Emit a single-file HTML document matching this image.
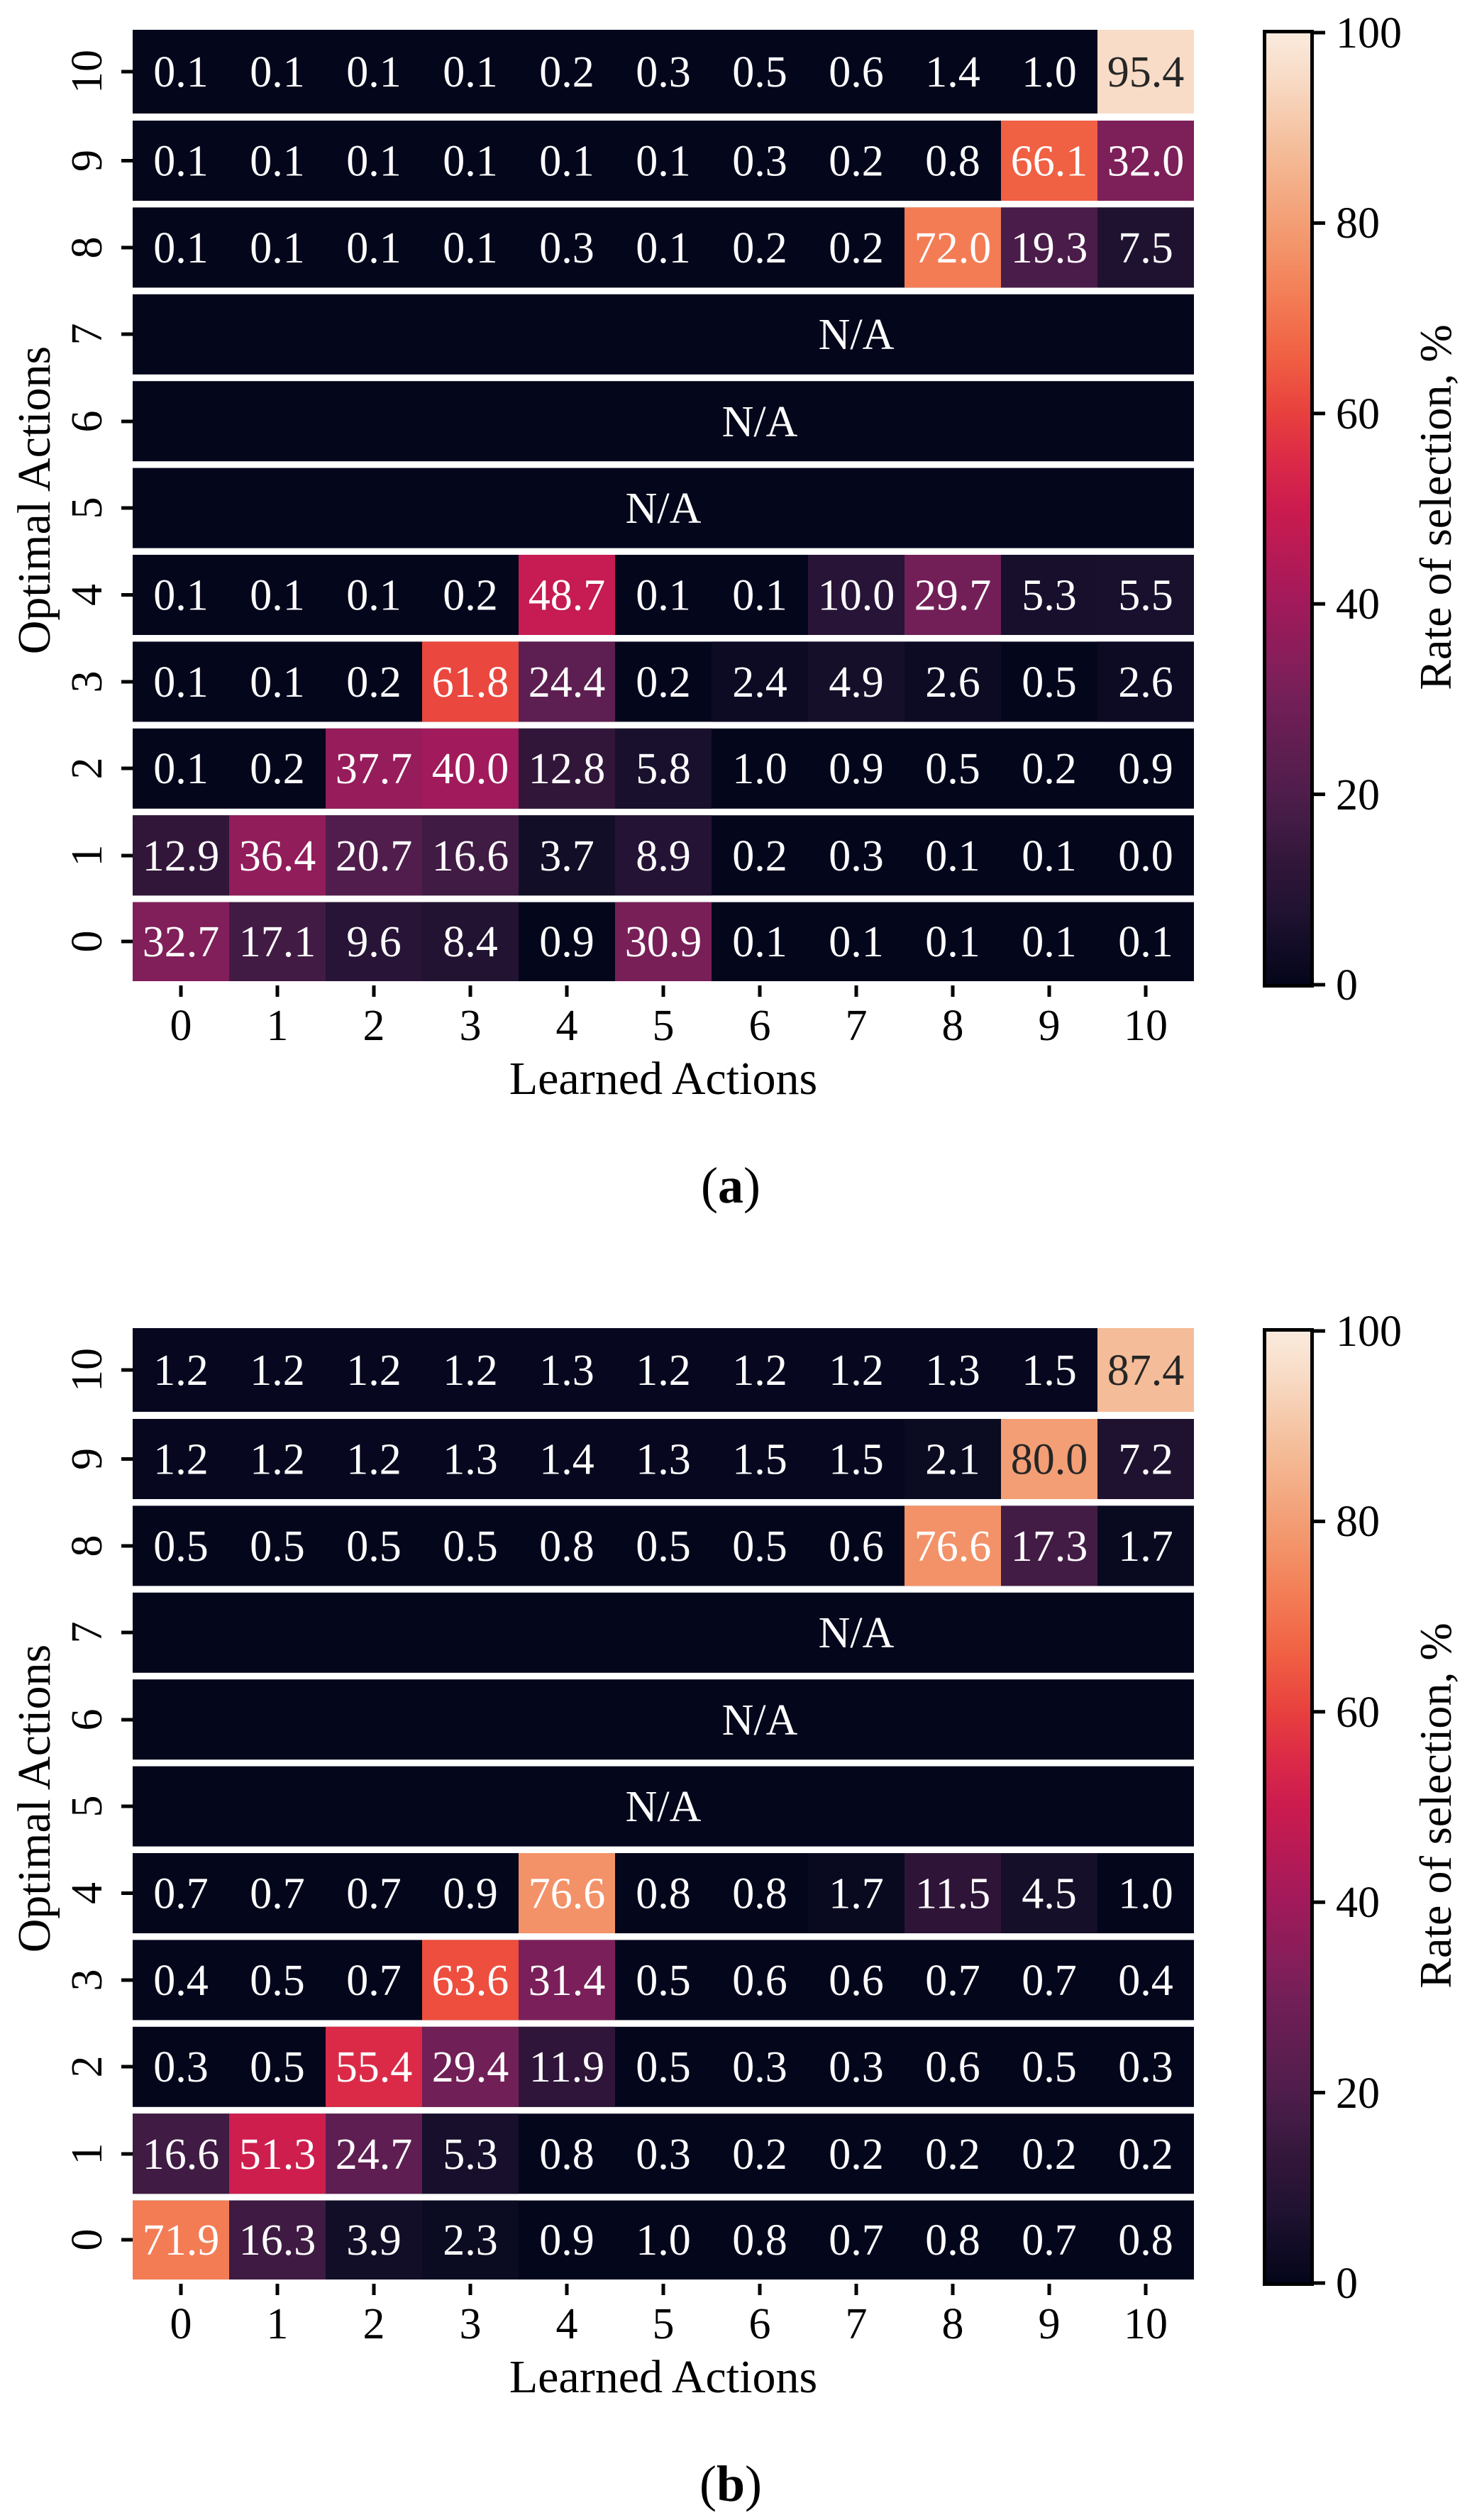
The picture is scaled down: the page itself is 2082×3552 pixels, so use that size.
<!DOCTYPE html>
<html><head><meta charset="utf-8"><style>
html,body{margin:0;padding:0;background:#fff;}
svg{display:block;}
text{font-family:"Liberation Serif",serif;}
</style></head><body>
<svg width="2082" height="3552" viewBox="0 0 2082 3552" xmlns="http://www.w3.org/2000/svg">
<defs>
<linearGradient id="rk" x1="0" y1="1" x2="0" y2="0">
<stop offset="0" stop-color="#03051a"/><stop offset="0.075" stop-color="#1f1230"/><stop offset="0.13" stop-color="#32163a"/><stop offset="0.173" stop-color="#431c45"/><stop offset="0.2" stop-color="#4e1d4b"/><stop offset="0.3" stop-color="#731f57"/><stop offset="0.32" stop-color="#7d1f59"/><stop offset="0.4" stop-color="#a11a5b"/><stop offset="0.5" stop-color="#cb1b4f"/><stop offset="0.55" stop-color="#db2a47"/><stop offset="0.6" stop-color="#e8403e"/><stop offset="0.66" stop-color="#f06043"/><stop offset="0.72" stop-color="#f37c55"/><stop offset="0.77" stop-color="#f39268"/><stop offset="0.8" stop-color="#f39e75"/><stop offset="0.874" stop-color="#f4bc98"/><stop offset="0.954" stop-color="#f8dcc7"/><stop offset="1" stop-color="#faebdd"/>
</linearGradient>
</defs>

<!-- ============ PANEL A ============ -->
<g id="pa">
<g fill="#04061c">
<rect x="187" y="42" width="1496" height="118"/>
<rect x="187" y="170" width="1496" height="113"/>
<rect x="187" y="292.4" width="1496" height="113"/>
<rect x="187" y="414.8" width="1496" height="113"/>
<rect x="187" y="537.2" width="1496" height="113"/>
<rect x="187" y="659.6" width="1496" height="113"/>
<rect x="187" y="782" width="1496" height="113"/>
<rect x="187" y="904.4" width="1496" height="113"/>
<rect x="187" y="1026.8" width="1496" height="113"/>
<rect x="187" y="1149.2" width="1496" height="113"/>
<rect x="187" y="1271.6" width="1496" height="111.4"/>
</g>
<rect x="1547" y="42" width="136" height="118" fill="#f8dcc7"/>
<rect x="1411" y="170" width="136" height="113" fill="#f06043"/>
<rect x="1547" y="170" width="136" height="113" fill="#7d1f59"/>
<rect x="1275" y="292.4" width="136" height="113" fill="#f37c55"/>
<rect x="1411" y="292.4" width="136" height="113" fill="#4a1c49"/>
<rect x="1547" y="292.4" width="136" height="113" fill="#1f1230"/>
<rect x="731" y="782" width="136" height="113" fill="#c61b53"/>
<rect x="1139" y="782" width="136" height="113" fill="#281437"/>
<rect x="1275" y="782" width="136" height="113" fill="#721f57"/>
<rect x="1411" y="782" width="136" height="113" fill="#170f2b"/>
<rect x="1547" y="782" width="136" height="113" fill="#18102c"/>
<rect x="595" y="904.4" width="136" height="113" fill="#ea473e"/>
<rect x="731" y="904.4" width="136" height="113" fill="#5d1e51"/>
<rect x="1003" y="904.4" width="136" height="113" fill="#0c0b23"/>
<rect x="1139" y="904.4" width="136" height="113" fill="#160f2a"/>
<rect x="1275" y="904.4" width="136" height="113" fill="#0c0b23"/>
<rect x="1547" y="904.4" width="136" height="113" fill="#0c0b23"/>
<rect x="459" y="1026.8" width="136" height="113" fill="#971c5b"/>
<rect x="595" y="1026.8" width="136" height="113" fill="#a11a5b"/>
<rect x="731" y="1026.8" width="136" height="113" fill="#32163a"/>
<rect x="867" y="1026.8" width="136" height="113" fill="#19102d"/>
<rect x="187" y="1149.2" width="136" height="113" fill="#32163a"/>
<rect x="323" y="1149.2" width="136" height="113" fill="#911d5b"/>
<rect x="459" y="1149.2" width="136" height="113" fill="#501d4c"/>
<rect x="595" y="1149.2" width="136" height="113" fill="#401b43"/>
<rect x="731" y="1149.2" width="136" height="113" fill="#120e27"/>
<rect x="867" y="1149.2" width="136" height="113" fill="#241334"/>
<rect x="187" y="1271.6" width="136" height="111.4" fill="#801f5a"/>
<rect x="323" y="1271.6" width="136" height="111.4" fill="#421b44"/>
<rect x="459" y="1271.6" width="136" height="111.4" fill="#271436"/>
<rect x="595" y="1271.6" width="136" height="111.4" fill="#221332"/>
<rect x="867" y="1271.6" width="136" height="111.4" fill="#781f58"/>

<g font-size="62" fill="#ffffff" text-anchor="middle">
<text y="122"><tspan x="255">0.1</tspan><tspan x="391">0.1</tspan><tspan x="527">0.1</tspan><tspan x="663">0.1</tspan><tspan x="799">0.2</tspan><tspan x="935">0.3</tspan><tspan x="1071">0.5</tspan><tspan x="1207">0.6</tspan><tspan x="1343">1.4</tspan><tspan x="1479">1.0</tspan></text>
<text y="247.5"><tspan x="255">0.1</tspan><tspan x="391">0.1</tspan><tspan x="527">0.1</tspan><tspan x="663">0.1</tspan><tspan x="799">0.1</tspan><tspan x="935">0.1</tspan><tspan x="1071">0.3</tspan><tspan x="1207">0.2</tspan><tspan x="1343">0.8</tspan><tspan x="1479">66.1</tspan><tspan x="1615">32.0</tspan></text>
<text y="370"><tspan x="255">0.1</tspan><tspan x="391">0.1</tspan><tspan x="527">0.1</tspan><tspan x="663">0.1</tspan><tspan x="799">0.3</tspan><tspan x="935">0.1</tspan><tspan x="1071">0.2</tspan><tspan x="1207">0.2</tspan><tspan x="1343">72.0</tspan><tspan x="1479">19.3</tspan><tspan x="1615">7.5</tspan></text>
<text x="1207" y="492">N/A</text>
<text x="1071" y="615">N/A</text>
<text x="935" y="737">N/A</text>
<text y="859.5"><tspan x="255">0.1</tspan><tspan x="391">0.1</tspan><tspan x="527">0.1</tspan><tspan x="663">0.2</tspan><tspan x="799">48.7</tspan><tspan x="935">0.1</tspan><tspan x="1071">0.1</tspan><tspan x="1207">10.0</tspan><tspan x="1343">29.7</tspan><tspan x="1479">5.3</tspan><tspan x="1615">5.5</tspan></text>
<text y="982"><tspan x="255">0.1</tspan><tspan x="391">0.1</tspan><tspan x="527">0.2</tspan><tspan x="663">61.8</tspan><tspan x="799">24.4</tspan><tspan x="935">0.2</tspan><tspan x="1071">2.4</tspan><tspan x="1207">4.9</tspan><tspan x="1343">2.6</tspan><tspan x="1479">0.5</tspan><tspan x="1615">2.6</tspan></text>
<text y="1104"><tspan x="255">0.1</tspan><tspan x="391">0.2</tspan><tspan x="527">37.7</tspan><tspan x="663">40.0</tspan><tspan x="799">12.8</tspan><tspan x="935">5.8</tspan><tspan x="1071">1.0</tspan><tspan x="1207">0.9</tspan><tspan x="1343">0.5</tspan><tspan x="1479">0.2</tspan><tspan x="1615">0.9</tspan></text>
<text y="1227"><tspan x="255">12.9</tspan><tspan x="391">36.4</tspan><tspan x="527">20.7</tspan><tspan x="663">16.6</tspan><tspan x="799">3.7</tspan><tspan x="935">8.9</tspan><tspan x="1071">0.2</tspan><tspan x="1207">0.3</tspan><tspan x="1343">0.1</tspan><tspan x="1479">0.1</tspan><tspan x="1615">0.0</tspan></text>
<text y="1348"><tspan x="255">32.7</tspan><tspan x="391">17.1</tspan><tspan x="527">9.6</tspan><tspan x="663">8.4</tspan><tspan x="799">0.9</tspan><tspan x="935">30.9</tspan><tspan x="1071">0.1</tspan><tspan x="1207">0.1</tspan><tspan x="1343">0.1</tspan><tspan x="1479">0.1</tspan><tspan x="1615">0.1</tspan></text>
</g>
<text x="1615" y="122" font-size="62" fill="#262626" text-anchor="middle">95.4</text>

<g stroke="#000" stroke-width="5">
<line x1="171" x2="187" y1="101" y2="101"/><line x1="171" x2="187" y1="226.5" y2="226.5"/><line x1="171" x2="187" y1="349" y2="349"/><line x1="171" x2="187" y1="471" y2="471"/><line x1="171" x2="187" y1="594" y2="594"/><line x1="171" x2="187" y1="716" y2="716"/><line x1="171" x2="187" y1="838.5" y2="838.5"/><line x1="171" x2="187" y1="961" y2="961"/><line x1="171" x2="187" y1="1083" y2="1083"/><line x1="171" x2="187" y1="1206" y2="1206"/><line x1="171" x2="187" y1="1327" y2="1327"/>
</g>
<g font-size="62" fill="#000" text-anchor="middle">
<text transform="translate(143,101) rotate(-90)">10</text>
<text transform="translate(143,226.5) rotate(-90)">9</text>
<text transform="translate(143,349) rotate(-90)">8</text>
<text transform="translate(143,471) rotate(-90)">7</text>
<text transform="translate(143,594) rotate(-90)">6</text>
<text transform="translate(143,716) rotate(-90)">5</text>
<text transform="translate(143,838.5) rotate(-90)">4</text>
<text transform="translate(143,961) rotate(-90)">3</text>
<text transform="translate(143,1083) rotate(-90)">2</text>
<text transform="translate(143,1206) rotate(-90)">1</text>
<text transform="translate(143,1327) rotate(-90)">0</text>
</g>
<g stroke="#000" stroke-width="5">
<line y1="1389" y2="1405" x1="255" x2="255"/><line y1="1389" y2="1405" x1="391" x2="391"/><line y1="1389" y2="1405" x1="527" x2="527"/><line y1="1389" y2="1405" x1="663" x2="663"/><line y1="1389" y2="1405" x1="799" x2="799"/><line y1="1389" y2="1405" x1="935" x2="935"/><line y1="1389" y2="1405" x1="1071" x2="1071"/><line y1="1389" y2="1405" x1="1207" x2="1207"/><line y1="1389" y2="1405" x1="1343" x2="1343"/><line y1="1389" y2="1405" x1="1479" x2="1479"/><line y1="1389" y2="1405" x1="1615" x2="1615"/>
</g>
<text y="1466" font-size="62" fill="#000" text-anchor="middle"><tspan x="255">0</tspan><tspan x="391">1</tspan><tspan x="527">2</tspan><tspan x="663">3</tspan><tspan x="799">4</tspan><tspan x="935">5</tspan><tspan x="1071">6</tspan><tspan x="1207">7</tspan><tspan x="1343">8</tspan><tspan x="1479">9</tspan><tspan x="1615">10</tspan></text>
<text x="935" y="1542" font-size="66" fill="#000" text-anchor="middle">Learned Actions</text>
<text transform="translate(70,705) rotate(-90)" font-size="66" fill="#000" text-anchor="middle">Optimal Actions</text>

<rect x="1782.5" y="44.5" width="67" height="1345" fill="url(#rk)" stroke="#000" stroke-width="5"/>
<g stroke="#000" stroke-width="5">
<line x1="1852" x2="1868" y1="1388" y2="1388"/><line x1="1852" x2="1868" y1="1119.6" y2="1119.6"/><line x1="1852" x2="1868" y1="851.2" y2="851.2"/><line x1="1852" x2="1868" y1="582.8" y2="582.8"/><line x1="1852" x2="1868" y1="314.4" y2="314.4"/><line x1="1852" x2="1868" y1="46" y2="46"/>
</g>
<g font-size="62" fill="#000">
<text x="1883" y="1409">0</text><text x="1883" y="1141">20</text><text x="1883" y="872">40</text><text x="1883" y="604">60</text><text x="1883" y="335">80</text><text x="1883" y="67">100</text>
</g>
<text transform="translate(2045,715) rotate(-90)" font-size="64" fill="#000" text-anchor="middle">Rate of selection, %</text>
<text x="1030" y="1695" font-size="72" fill="#000" text-anchor="middle">(<tspan font-weight="bold">a</tspan>)</text>
</g>

<!-- ============ PANEL B ============ -->
<g transform="translate(0,1830)">
<g fill="#04061c">
<rect x="187" y="42" width="1496" height="118" fill="#07081f"/>
<rect x="187" y="170" width="1496" height="113" fill="#07081f"/>
<rect x="187" y="292.4" width="1496" height="113"/>
<rect x="187" y="414.8" width="1496" height="113"/>
<rect x="187" y="537.2" width="1496" height="113"/>
<rect x="187" y="659.6" width="1496" height="113"/>
<rect x="187" y="782" width="1496" height="113"/>
<rect x="187" y="904.4" width="1496" height="113"/>
<rect x="187" y="1026.8" width="1496" height="113"/>
<rect x="187" y="1149.2" width="1496" height="113"/>
<rect x="187" y="1271.6" width="1496" height="111.4"/>
</g>
<rect x="1547" y="42" width="136" height="118" fill="#f4bc98"/>
<rect x="1275" y="170" width="136" height="113" fill="#0b0b22"/>
<rect x="1411" y="170" width="136" height="113" fill="#f39e75"/>
<rect x="1547" y="170" width="136" height="113" fill="#1f1230"/>
<rect x="1275" y="292.4" width="136" height="113" fill="#f39268"/>
<rect x="1411" y="292.4" width="136" height="113" fill="#431c45"/>
<rect x="1547" y="292.4" width="136" height="113" fill="#090a20"/>
<rect x="731" y="782" width="136" height="113" fill="#f39268"/>
<rect x="1139" y="782" width="136" height="113" fill="#090a20"/>
<rect x="1275" y="782" width="136" height="113" fill="#2e1538"/>
<rect x="1411" y="782" width="136" height="113" fill="#150f29"/>
<rect x="595" y="904.4" width="136" height="113" fill="#ed4e3e"/>
<rect x="731" y="904.4" width="136" height="113" fill="#7a1f59"/>
<rect x="459" y="1026.8" width="136" height="113" fill="#db2a47"/>
<rect x="595" y="1026.8" width="136" height="113" fill="#711f57"/>
<rect x="731" y="1026.8" width="136" height="113" fill="#2f1539"/>
<rect x="187" y="1149.2" width="136" height="113" fill="#401b43"/>
<rect x="323" y="1149.2" width="136" height="113" fill="#ce1e4e"/>
<rect x="459" y="1149.2" width="136" height="113" fill="#5e1e52"/>
<rect x="595" y="1149.2" width="136" height="113" fill="#170f2b"/>
<rect x="187" y="1271.6" width="136" height="111.4" fill="#f37c55"/>
<rect x="323" y="1271.6" width="136" height="111.4" fill="#3f1a42"/>
<rect x="459" y="1271.6" width="136" height="111.4" fill="#130e28"/>
<rect x="595" y="1271.6" width="136" height="111.4" fill="#0b0b22"/>

<g font-size="62" fill="#ffffff" text-anchor="middle">
<text y="122"><tspan x="255">1.2</tspan><tspan x="391">1.2</tspan><tspan x="527">1.2</tspan><tspan x="663">1.2</tspan><tspan x="799">1.3</tspan><tspan x="935">1.2</tspan><tspan x="1071">1.2</tspan><tspan x="1207">1.2</tspan><tspan x="1343">1.3</tspan><tspan x="1479">1.5</tspan></text>
<text y="247.5"><tspan x="255">1.2</tspan><tspan x="391">1.2</tspan><tspan x="527">1.2</tspan><tspan x="663">1.3</tspan><tspan x="799">1.4</tspan><tspan x="935">1.3</tspan><tspan x="1071">1.5</tspan><tspan x="1207">1.5</tspan><tspan x="1343">2.1</tspan><tspan x="1615">7.2</tspan></text>
<text y="370"><tspan x="255">0.5</tspan><tspan x="391">0.5</tspan><tspan x="527">0.5</tspan><tspan x="663">0.5</tspan><tspan x="799">0.8</tspan><tspan x="935">0.5</tspan><tspan x="1071">0.5</tspan><tspan x="1207">0.6</tspan><tspan x="1343">76.6</tspan><tspan x="1479">17.3</tspan><tspan x="1615">1.7</tspan></text>
<text x="1207" y="492">N/A</text>
<text x="1071" y="615">N/A</text>
<text x="935" y="737">N/A</text>
<text y="859.5"><tspan x="255">0.7</tspan><tspan x="391">0.7</tspan><tspan x="527">0.7</tspan><tspan x="663">0.9</tspan><tspan x="799">76.6</tspan><tspan x="935">0.8</tspan><tspan x="1071">0.8</tspan><tspan x="1207">1.7</tspan><tspan x="1343">11.5</tspan><tspan x="1479">4.5</tspan><tspan x="1615">1.0</tspan></text>
<text y="982"><tspan x="255">0.4</tspan><tspan x="391">0.5</tspan><tspan x="527">0.7</tspan><tspan x="663">63.6</tspan><tspan x="799">31.4</tspan><tspan x="935">0.5</tspan><tspan x="1071">0.6</tspan><tspan x="1207">0.6</tspan><tspan x="1343">0.7</tspan><tspan x="1479">0.7</tspan><tspan x="1615">0.4</tspan></text>
<text y="1104"><tspan x="255">0.3</tspan><tspan x="391">0.5</tspan><tspan x="527">55.4</tspan><tspan x="663">29.4</tspan><tspan x="799">11.9</tspan><tspan x="935">0.5</tspan><tspan x="1071">0.3</tspan><tspan x="1207">0.3</tspan><tspan x="1343">0.6</tspan><tspan x="1479">0.5</tspan><tspan x="1615">0.3</tspan></text>
<text y="1227"><tspan x="255">16.6</tspan><tspan x="391">51.3</tspan><tspan x="527">24.7</tspan><tspan x="663">5.3</tspan><tspan x="799">0.8</tspan><tspan x="935">0.3</tspan><tspan x="1071">0.2</tspan><tspan x="1207">0.2</tspan><tspan x="1343">0.2</tspan><tspan x="1479">0.2</tspan><tspan x="1615">0.2</tspan></text>
<text y="1348"><tspan x="255">71.9</tspan><tspan x="391">16.3</tspan><tspan x="527">3.9</tspan><tspan x="663">2.3</tspan><tspan x="799">0.9</tspan><tspan x="935">1.0</tspan><tspan x="1071">0.8</tspan><tspan x="1207">0.7</tspan><tspan x="1343">0.8</tspan><tspan x="1479">0.7</tspan><tspan x="1615">0.8</tspan></text>
</g>
<text x="1615" y="122" font-size="62" fill="#262626" text-anchor="middle">87.4</text>
<text x="1479" y="247.5" font-size="62" fill="#262626" text-anchor="middle">80.0</text>

<g stroke="#000" stroke-width="5">
<line x1="171" x2="187" y1="101" y2="101"/><line x1="171" x2="187" y1="226.5" y2="226.5"/><line x1="171" x2="187" y1="349" y2="349"/><line x1="171" x2="187" y1="471" y2="471"/><line x1="171" x2="187" y1="594" y2="594"/><line x1="171" x2="187" y1="716" y2="716"/><line x1="171" x2="187" y1="838.5" y2="838.5"/><line x1="171" x2="187" y1="961" y2="961"/><line x1="171" x2="187" y1="1083" y2="1083"/><line x1="171" x2="187" y1="1206" y2="1206"/><line x1="171" x2="187" y1="1327" y2="1327"/>
</g>
<g font-size="62" fill="#000" text-anchor="middle">
<text transform="translate(143,101) rotate(-90)">10</text>
<text transform="translate(143,226.5) rotate(-90)">9</text>
<text transform="translate(143,349) rotate(-90)">8</text>
<text transform="translate(143,471) rotate(-90)">7</text>
<text transform="translate(143,594) rotate(-90)">6</text>
<text transform="translate(143,716) rotate(-90)">5</text>
<text transform="translate(143,838.5) rotate(-90)">4</text>
<text transform="translate(143,961) rotate(-90)">3</text>
<text transform="translate(143,1083) rotate(-90)">2</text>
<text transform="translate(143,1206) rotate(-90)">1</text>
<text transform="translate(143,1327) rotate(-90)">0</text>
</g>
<g stroke="#000" stroke-width="5">
<line y1="1389" y2="1405" x1="255" x2="255"/><line y1="1389" y2="1405" x1="391" x2="391"/><line y1="1389" y2="1405" x1="527" x2="527"/><line y1="1389" y2="1405" x1="663" x2="663"/><line y1="1389" y2="1405" x1="799" x2="799"/><line y1="1389" y2="1405" x1="935" x2="935"/><line y1="1389" y2="1405" x1="1071" x2="1071"/><line y1="1389" y2="1405" x1="1207" x2="1207"/><line y1="1389" y2="1405" x1="1343" x2="1343"/><line y1="1389" y2="1405" x1="1479" x2="1479"/><line y1="1389" y2="1405" x1="1615" x2="1615"/>
</g>
<text y="1466" font-size="62" fill="#000" text-anchor="middle"><tspan x="255">0</tspan><tspan x="391">1</tspan><tspan x="527">2</tspan><tspan x="663">3</tspan><tspan x="799">4</tspan><tspan x="935">5</tspan><tspan x="1071">6</tspan><tspan x="1207">7</tspan><tspan x="1343">8</tspan><tspan x="1479">9</tspan><tspan x="1615">10</tspan></text>
<text x="935" y="1542" font-size="66" fill="#000" text-anchor="middle">Learned Actions</text>
<text transform="translate(70,705) rotate(-90)" font-size="66" fill="#000" text-anchor="middle">Optimal Actions</text>

<rect x="1782.5" y="44.5" width="67" height="1345" fill="url(#rk)" stroke="#000" stroke-width="5"/>
<g stroke="#000" stroke-width="5">
<line x1="1852" x2="1868" y1="1388" y2="1388"/><line x1="1852" x2="1868" y1="1119.6" y2="1119.6"/><line x1="1852" x2="1868" y1="851.2" y2="851.2"/><line x1="1852" x2="1868" y1="582.8" y2="582.8"/><line x1="1852" x2="1868" y1="314.4" y2="314.4"/><line x1="1852" x2="1868" y1="46" y2="46"/>
</g>
<g font-size="62" fill="#000">
<text x="1883" y="1409">0</text><text x="1883" y="1141">20</text><text x="1883" y="872">40</text><text x="1883" y="604">60</text><text x="1883" y="335">80</text><text x="1883" y="67">100</text>
</g>
<text transform="translate(2045,715) rotate(-90)" font-size="64" fill="#000" text-anchor="middle">Rate of selection, %</text>
<text x="1030" y="1695" font-size="72" fill="#000" text-anchor="middle">(<tspan font-weight="bold">b</tspan>)</text>
</g>
</svg>
</body></html>
